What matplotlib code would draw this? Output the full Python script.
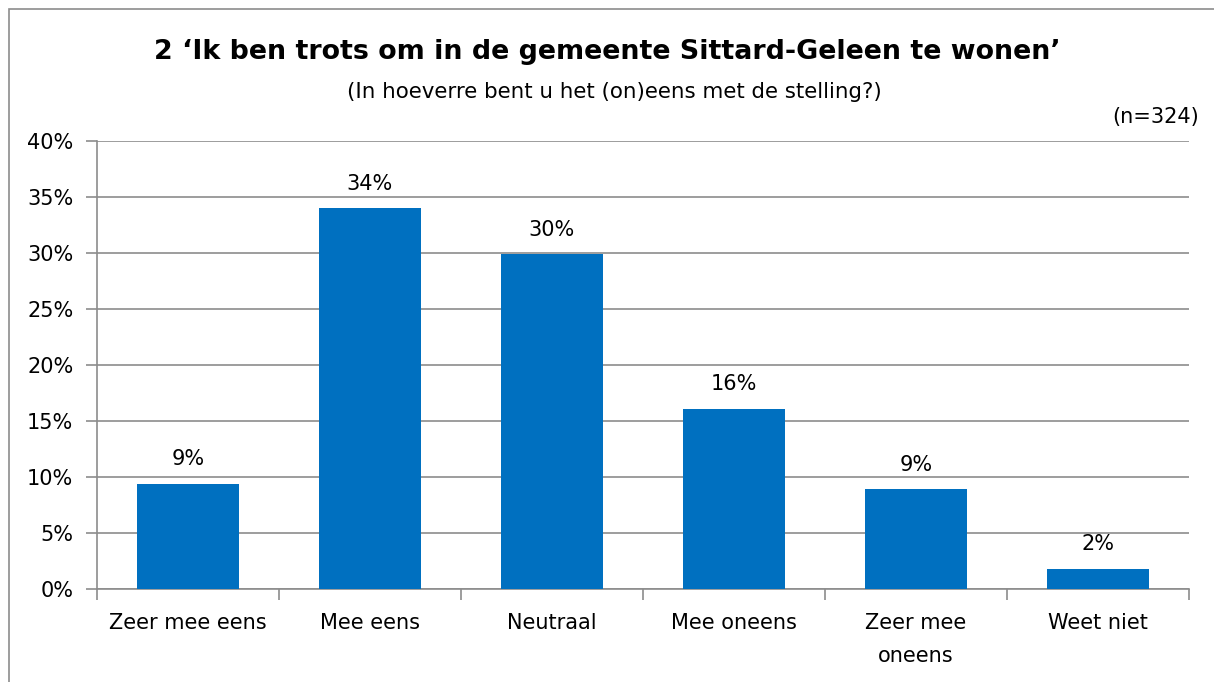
import matplotlib.pyplot as plt
from matplotlib.patches import Rectangle

# data
categories = ["Zeer mee eens", "Mee eens", "Neutraal", "Mee oneens", "Zeer mee\noneens", "Weet niet"]
values = [9.4, 34.0, 29.9, 16.1, 8.9, 1.8]
labels = ["9%", "34%", "30%", "16%", "9%", "2%"]
yticks = [0, 5, 10, 15, 20, 25, 30, 35, 40]

plt.rcParams['font.family'] = ['DejaVu Sans']

W, H = 1214, 682
fig = plt.figure(figsize=(W / 100, H / 100), dpi=100)

# outer chart border
fig.patches.append(Rectangle((9 / W, -0.05), 1.2, 1 - 9 / H + 0.05, transform=fig.transFigure,
                             fill=False, edgecolor='#8c8c8c', linewidth=1.2))

ax = fig.add_axes([97 / W, 1 - 589 / H, (1189 - 97) / W, (589 - 141) / H])
x = range(len(categories))
ax.bar(x, values, width=0.565, color='#0070c0', zorder=3)
for xi, v, lab in zip(x, values, labels):
    ax.text(xi, v + 1.3, lab, ha='center', va='bottom', fontsize=15)

ax.set_xlim(-0.5, len(categories) - 0.5)
ax.set_ylim(0, 40)
ax.set_yticks(yticks)
ax.set_yticklabels([f"{t}%" for t in yticks], fontsize=15)
ax.yaxis.grid(True, color='#8c8c8c', linewidth=1.2, zorder=0)
ax.set_xticks(x)
ax.set_xticklabels(categories, fontsize=15, linespacing=1.85)
ax.set_xticks([i - 0.5 for i in range(len(categories) + 1)], minor=True)
ax.tick_params(axis='x', which='major', length=0, pad=17)
ax.tick_params(axis='x', which='minor', length=8, color='#8c8c8c', width=1.2)
ax.tick_params(axis='y', length=8, color='#8c8c8c', width=1.2, pad=9)
for s in ['top', 'right']:
    ax.spines[s].set_visible(False)
for s in ['left', 'bottom']:
    ax.spines[s].set_color('#8c8c8c')
    ax.spines[s].set_linewidth(1.2)

#titels
fig.text(607 / W, 1 - 52 / H, "2 \u2018Ik ben trots om in de gemeente Sittard-Geleen te wonen\u2019",
         ha='center', va='center', fontsize=19.4, fontweight='bold')
fig.text(614 / W, 1 - 92 / H, "(In hoeverre bent u het (on)eens met de stelling?)",
         ha='center', va='center', fontsize=15.4)
fig.text(1199 / W, 1 - 117 / H, "(n=324)", ha='right', va='center', fontsize=15)

fig.savefig("out.png", dpi=100)
